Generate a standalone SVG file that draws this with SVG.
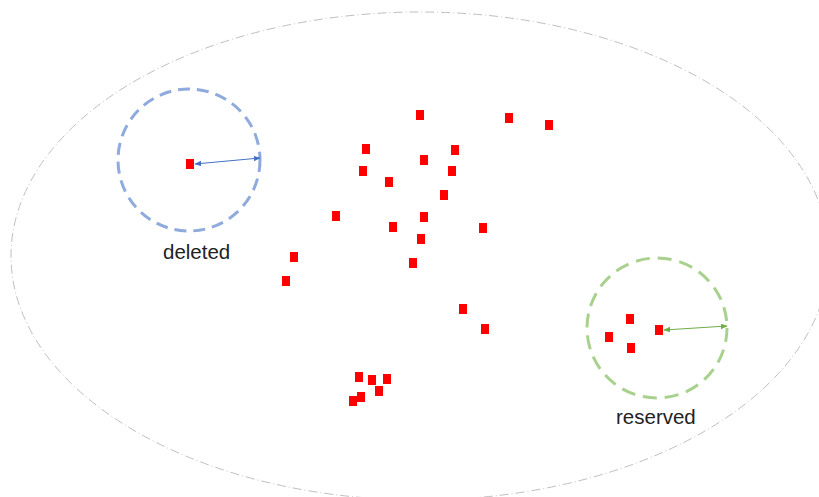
<svg xmlns="http://www.w3.org/2000/svg" width="819" height="497" viewBox="0 0 819 497">
  <style>
    .pt { fill: #ff0000; }
    .label { font-family: "Liberation Sans", Arial, sans-serif; font-size: 20.5px; fill: #222222; }
    .bound { fill: none; stroke: #bfbfbf; stroke-width: 1; stroke-dasharray: 9 3 1 3; }
    .ring-del { fill: none; stroke: #8faadc; stroke-width: 3; stroke-dasharray: 12 7; }
    .ring-res { fill: none; stroke: #a9d18e; stroke-width: 3; stroke-dasharray: 14 8; }
  </style>
  <defs>
    <marker id="ab" viewBox="0 0 10 10" refX="9" refY="5" markerWidth="7" markerHeight="7" orient="auto-start-reverse" markerUnits="userSpaceOnUse">
      <path d="M0,1 L10,5 L0,9 z" fill="#4472c4"/>
    </marker>
    <marker id="ag" viewBox="0 0 10 10" refX="9" refY="5" markerWidth="7" markerHeight="7" orient="auto-start-reverse" markerUnits="userSpaceOnUse">
      <path d="M0,1 L10,5 L0,9 z" fill="#70ad47"/>
    </marker>
  </defs>

  <rect width="819" height="497" fill="#ffffff"/>

  <!-- outer boundary -->
  <g id="boundary">
    <ellipse class="bound" cx="420" cy="256" rx="409" ry="244"/>
  </g>

  <!-- deleted region -->
  <g id="deleted">
    <circle class="ring-del" cx="189" cy="160" r="71"/>
    <text class="label" x="163" y="259">deleted</text>
  </g>

  <!-- reserved region -->
  <g id="reserved">
    <circle class="ring-res" cx="657" cy="328" r="70"/>
    <text class="label" x="616" y="424">reserved</text>
  </g>

  <!-- radius connectors -->
  <g id="connectors">
    <line x1="195" y1="164" x2="260" y2="158" stroke="#4472c4" stroke-width="1" marker-start="url(#ab)" marker-end="url(#ab)"/>
    <line x1="664" y1="330" x2="727" y2="326" stroke="#70ad47" stroke-width="1" marker-start="url(#ag)" marker-end="url(#ag)"/>
  </g>

  <!-- data points (centers offset by -4,-5) -->
  <g id="points">
    <rect class="pt" x="186" y="159" width="8" height="10"/>
    <rect class="pt" x="416" y="110" width="8" height="10"/>
    <rect class="pt" x="505" y="113" width="8" height="10"/>
    <rect class="pt" x="545" y="120" width="8" height="10"/>
    <rect class="pt" x="362" y="144" width="8" height="10"/>
    <rect class="pt" x="451" y="145" width="8" height="10"/>
    <rect class="pt" x="420" y="155" width="8" height="10"/>
    <rect class="pt" x="359" y="166" width="8" height="10"/>
    <rect class="pt" x="448" y="166" width="8" height="10"/>
    <rect class="pt" x="385" y="177" width="8" height="10"/>
    <rect class="pt" x="440" y="190" width="8" height="10"/>
    <rect class="pt" x="332" y="211" width="8" height="10"/>
    <rect class="pt" x="420" y="212" width="8" height="10"/>
    <rect class="pt" x="389" y="222" width="8" height="10"/>
    <rect class="pt" x="479" y="223" width="8" height="10"/>
    <rect class="pt" x="417" y="234" width="8" height="10"/>
    <rect class="pt" x="409" y="258" width="8" height="10"/>
    <rect class="pt" x="290" y="252" width="8" height="10"/>
    <rect class="pt" x="282" y="276" width="8" height="10"/>
    <rect class="pt" x="459" y="304" width="8" height="10"/>
    <rect class="pt" x="481" y="324" width="8" height="10"/>
    <rect class="pt" x="355" y="372" width="8" height="10"/>
    <rect class="pt" x="368" y="375" width="8" height="10"/>
    <rect class="pt" x="383" y="374" width="8" height="10"/>
    <rect class="pt" x="375" y="386" width="8" height="10"/>
    <rect class="pt" x="357" y="392" width="8" height="10"/>
    <rect class="pt" x="349" y="396" width="8" height="10"/>
    <rect class="pt" x="626" y="314" width="8" height="10"/>
    <rect class="pt" x="605" y="332" width="8" height="10"/>
    <rect class="pt" x="627" y="343" width="8" height="10"/>
    <rect class="pt" x="655" y="325" width="8" height="10"/>
  </g>
</svg>
